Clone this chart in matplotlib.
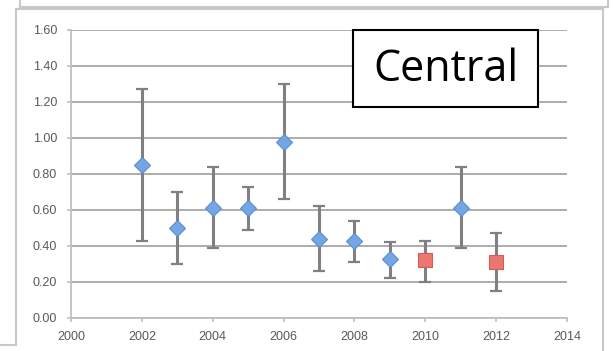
import numpy as np
import matplotlib
matplotlib.use("Agg")
import matplotlib.pyplot as plt
from matplotlib.patches import Rectangle
from matplotlib.lines import Line2D

# Values
years_blue = [2002, 2003, 2004, 2005, 2006, 2007, 2008, 2009, 2011]
mean_blue = [0.85, 0.50, 0.61, 0.61, 0.98, 0.44, 0.43, 0.33, 0.61]
upper_blue = [1.27, 0.70, 0.84, 0.73, 1.30, 0.62, 0.54, 0.42, 0.84]
lower_blue = [0.43, 0.30, 0.39, 0.49, 0.66, 0.26, 0.31, 0.22, 0.39]

years_red = [2010, 2012]
mean_red = [0.32, 0.31]
upper_red = [0.43, 0.47]
lower_red = [0.20, 0.15]

x_ticks = [2000, 2002, 2004, 2006, 2008, 2010, 2012, 2014]
y_ticks = [0.0, 0.2, 0.4, 0.6, 0.8, 1.0, 1.2, 1.4, 1.6]
label = "Central"

W, H = 613, 351
fig = plt.figure(figsize=(W / 100, H / 100), dpi=100)
ax = fig.add_axes([71 / W, 1 - 318 / H, (567 - 71) / W, (318 - 30) / H])

tick_color = "#595959"
grid_color = "#a6a6a6"


def draw_series(x, m, lo, hi, marker, ms, fc, ec):
    m = np.array(m)
    err = [m - np.array(lo), np.array(hi) - m]
    _, caps, bars = ax.errorbar(x, m, yerr=err, fmt="none", ecolor="#808080",
                                elinewidth=2.2, capsize=4.5, capthick=1.6, zorder=3)
    for c in caps:
        c.set_color("#262626")
    ax.plot(x, m, linestyle="none", marker=marker, markersize=ms,
            markerfacecolor=fc, markeredgecolor=ec, markeredgewidth=0.8, zorder=4)


draw_series(years_blue, mean_blue, lower_blue, upper_blue, "D", 8.4, "#73a6e2", "#5a8fd0")
draw_series(years_red, mean_red, lower_red, upper_red, "s", 10.5, "#ec7672", "#d45c58")

ax.set_xlim(2000, 2014)
ax.set_ylim(0, 1.6)
ax.set_xticks(x_ticks)
ax.set_yticks(y_ticks)
ax.set_xticklabels([str(t) for t in x_ticks])
ax.set_yticklabels([f"{t:.2f}" for t in y_ticks])
ax.yaxis.grid(True, color=grid_color, linewidth=1.3)
ax.set_axisbelow(True)

for s in ["top", "right"]:
    ax.spines[s].set_visible(False)
for s in ["left", "bottom"]:
    ax.spines[s].set_color("#bfbfbf")
    ax.spines[s].set_linewidth(1.3)

ax.tick_params(axis="both", colors="#bfbfbf", labelcolor=tick_color,
               labelsize=9, length=3, width=1.2)
ax.tick_params(axis="y", pad=7)
ax.tick_params(axis="x", pad=6)
for t in ax.get_xticklabels() + ax.get_yticklabels():
    t.set_fontfamily("Liberation Sans")

# "Central" label box
box = Rectangle((353 / W, 1 - 107 / H), (538 - 353) / W, (107 - 30) / H,
                transform=fig.transFigure, facecolor="white", edgecolor="black",
                linewidth=1.5, zorder=10)
fig.patches.append(box)
fig.text((353 + 538) / 2 / W, 1 - 70 / H, label, ha="center", va="center",
         fontsize=31, fontfamily="Open Sans", color="black", zorder=11)

# slide frame lines around the chart
frame_c = "#c8c8c8"
fig.lines.append(Line2D([16 / W, 16 / W], [1 - 9 / H, 1 - 345 / H], transform=fig.transFigure, color=frame_c, lw=1.5))
fig.lines.append(Line2D([16 / W, 603 / W], [1 - 9 / H, 1 - 9 / H], transform=fig.transFigure, color=frame_c, lw=1.5))
fig.lines.append(Line2D([603 / W, 603 / W], [1 - 9 / H, 0], transform=fig.transFigure, color=frame_c, lw=1.5))
fig.lines.append(Line2D([0, 16 / W], [1 - 345 / H, 1 - 345 / H], transform=fig.transFigure, color=frame_c, lw=1.5))
fig.lines.append(Line2D([20 / W, 20 / W], [1, 1 - 7 / H], transform=fig.transFigure, color=frame_c, lw=1.5))
fig.lines.append(Line2D([20 / W, 608 / W], [1 - 7 / H, 1 - 7 / H], transform=fig.transFigure, color=frame_c, lw=1.5))
fig.lines.append(Line2D([608 / W, 608 / W], [1, 1 - 7 / H], transform=fig.transFigure, color=frame_c, lw=1.5))

fig.savefig("out.png", dpi=100)
